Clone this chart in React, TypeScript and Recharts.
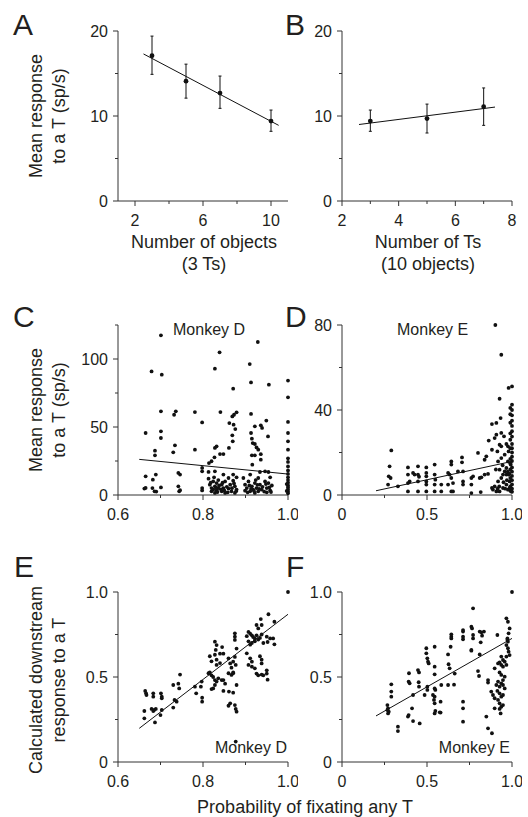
import React from 'react';
import { ScatterChart, Scatter, XAxis, YAxis, ErrorBar } from 'recharts';

// ---------- Panel A ----------
const aObjects = [3, 5, 7, 10];
const aMeans = [17.1, 14.1, 12.7, 9.4];
const aUpper = [19.4, 16.1, 14.7, 10.7];
const aLower = [14.9, 12.1, 10.9, 8.2];
const aFitX = [2.5, 10.45];
const aFitY = [17.3, 8.9];

// ---------- Panel B ----------
const bTs = [3, 5, 7];
const bMeans = [9.4, 9.7, 11.1];
const bUpper = [10.7, 11.4, 13.3];
const bLower = [8.2, 8.0, 8.9];
const bFitX = [2.6, 7.4];
const bFitY = [9.0, 11.05];

// ---------- Panel C (Monkey D, response) ----------
const cPoints: [number, number][] = [
  [0.701, 117.4], [0.679, 90.9], [0.703, 88.5], [0.701, 61.5], [0.732, 59], [0.736, 61.5], [0.781, 61], [0.798, 53.4],
  [0.665, 45.6], [0.701, 46.8], [0.701, 41.9], [0.687, 32.6], [0.687, 29.2], [0.734, 36.5], [0.73, 31.4], [0.781, 33.3],
  [0.665, 13.7], [0.682, 11.3], [0.689, 15], [0.662, 4.7], [0.665, 5.2], [0.681, 5.1], [0.686, 2.7], [0.69, 2.5],
  [0.701, 5.6], [0.742, 16.2], [0.746, 15], [0.742, 6.4], [0.744, 2.7], [0.746, 3.5], [0.798, 19.9], [0.798, 17.4],
  [0.798, 5.1], [0.798, 3.4], [0.828, 92.9], [0.839, 104.9], [0.841, 61], [0.871, 78.2], [0.869, 57.8], [0.873, 59],
  [0.879, 60.8], [0.862, 52.9], [0.872, 51.7], [0.876, 48.5], [0.869, 43.9], [0.87, 39.5], [0.861, 34.6], [0.828, 34.6],
  [0.832, 35.8], [0.84, 30.1], [0.848, 30.1], [0.827, 27.7], [0.82, 24.8], [0.814, 23.5], [0.91, 96.3], [0.913, 82.8],
  [0.913, 59.6], [0.955, 81.1], [0.929, 112.5], [0.922, 50.5], [0.936, 51.2], [0.939, 49.3], [0.949, 54.7], [0.913, 45.6],
  [0.915, 41.4], [0.917, 38.2], [0.922, 37.5], [0.926, 35], [0.93, 33.3], [0.915, 29.2], [0.922, 29.2], [0.936, 30],
  [0.916, 22.3], [0.936, 26], [0.953, 43.1],
  [1.0, 84.1], [1.0, 71.8], [1.0, 53.7], [1.0, 45.6], [1.0, 39.5], [1.0, 33.3], [1.0, 27], [1.0, 24.3], [1.0, 21],
  [1.0, 18], [1.0, 15.5], [1.0, 13], [1.0, 11], [1.0, 9], [1.0, 7], [1.0, 5.5], [1.0, 4], [1.0, 2.5], [1.0, 1.2],
  [0.997, 8], [0.997, 3],
  [0.813, 17], [0.828, 17.4], [0.848, 15], [0.813, 12], [0.816, 7.6], [0.82, 5.1], [0.82, 2.7], [0.824, 10], [0.824, 4],
  [0.828, 6.4], [0.828, 1.5], [0.832, 8.8], [0.832, 3.4], [0.836, 5.1], [0.836, 11], [0.844, 2.7], [0.844, 7.6],
  [0.848, 5.1], [0.852, 10], [0.852, 1.5], [0.86, 12.5], [0.86, 4.7], [0.864, 7.6], [0.867, 2.7], [0.871, 10.5],
  [0.871, 15], [0.875, 6.4], [0.875, 1.5], [0.879, 4], [0.879, 13], [0.895, 12.5], [0.899, 7.6], [0.899, 3.2],
  [0.903, 5.1], [0.907, 10], [0.911, 15], [0.911, 2.7], [0.915, 6.4], [0.918, 4], [0.922, 8.8], [0.922, 1.5],
  [0.926, 5.1], [0.93, 12.5], [0.93, 2.7], [0.934, 16.9], [0.934, 7.6], [0.938, 4], [0.946, 17.4], [0.946, 10],
  [0.95, 5.1], [0.95, 2], [0.954, 16.9], [0.954, 8.8], [0.958, 13], [0.958, 3.4], [0.962, 7],
  [0.83, 5.5], [0.834, 2.2], [0.838, 7], [0.842, 4.2], [0.846, 9], [0.85, 3.3], [0.856, 6], [0.858, 2], [0.868, 5],
  [0.873, 8.5], [0.878, 2.8], [0.905, 2], [0.909, 7], [0.913, 4.5], [0.92, 3], [0.924, 11], [0.928, 7.5], [0.932, 4.5],
  [0.94, 6], [0.944, 2.5], [0.948, 8], [0.956, 5.5], [0.96, 2.2], [0.818, 9], [0.826, 13],
];
const cFitX = [0.65, 1.0];
const cFitY = [26.2, 15.4];

// ---------- Panel D (Monkey E, response) ----------
const dPoints: [number, number][] = [
  [0.902, 80], [0.937, 66], [0.98, 50.4], [1.0, 51.1], [0.927, 45.3], [0.933, 36.2], [0.882, 33.4], [0.908, 33.9],
  [1.0, 42.5], [1.0, 40], [1.0, 37.5], [1.0, 35], [1.0, 32.5], [1.0, 30], [1.0, 27.5], [1.0, 24], [1.0, 22], [1.0, 20],
  [1.0, 18], [1.0, 16], [1.0, 13], [1.0, 11], [1.0, 9], [1.0, 7], [1.0, 5], [1.0, 3], [1.0, 1.5],
  [0.99, 41], [0.99, 38], [0.99, 34], [0.99, 29], [0.99, 26], [0.99, 22], [0.99, 17], [0.99, 12], [0.99, 8], [0.99, 4], [0.99, 2],
  [0.908, 28.4], [0.937, 29.2], [0.953, 27.6], [0.898, 26.8], [0.863, 25.6], [0.927, 23.7], [0.937, 22.9], [0.967, 24],
  [0.976, 22.9], [0.8, 19.8], [0.849, 18.2], [0.839, 16.6], [0.29, 21], [0.28, 13.5], [0.275, 8.8], [0.286, 8],
  [0.271, 4.9], [0.329, 4.1], [0.388, 13], [0.388, 9.6], [0.388, 5.6], [0.388, 1.7], [0.418, 10.4], [0.427, 9.6],
  [0.447, 13.5], [0.447, 9.6], [0.453, 8.6], [0.447, 6.4], [0.447, 1.7], [0.398, 6.4], [0.496, 13], [0.496, 10.4],
  [0.496, 8.8], [0.496, 6.4], [0.496, 4.9], [0.496, 1.7], [0.545, 14.3], [0.545, 9.6], [0.549, 7.2], [0.545, 4.9],
  [0.545, 1.7], [0.584, 4.9], [0.584, 1.7], [0.624, 10.4], [0.633, 9.6], [0.643, 8], [0.624, 4.9], [0.643, 1.7],
  [0.643, 15.8], [0.643, 14.3], [0.682, 11.1], [0.653, 5.6], [0.653, 1.7], [0.706, 17.7], [0.706, 15.4], [0.712, 11.1],
  [0.712, 6.4], [0.712, 4.9], [0.761, 8], [0.771, 8.8], [0.761, 4.9], [0.761, 0.9], [0.81, 8], [0.82, 8.3],
  [0.839, 9.6], [0.859, 9.9], [0.816, 1.4], [0.882, 3.3], [0.888, 2.5], [0.898, 4.1], [0.908, 1.7], [0.927, 1.7],
  [0.947, 3.3], [0.967, 4.9], [0.976, 2.5], [0.986, 3.3], [0.996, 1.7], [0.918, 6.4], [0.937, 8], [0.947, 9.6],
  [0.957, 11.1], [0.967, 12.7], [0.927, 11.9], [0.976, 15.8], [0.957, 19], [0.937, 17.4], [0.918, 15.8], [0.967, 9.6],
  [0.986, 6.4], [0.882, 21.3], [0.914, 20.5], [0.98, 20.5], [0.992, 14.3], [0.98, 9.6],
  [0.95, 6], [0.96, 3], [0.97, 7], [0.975, 11], [0.985, 10], [0.99, 15], [0.945, 14], [0.925, 4], [0.915, 3], [0.905, 12],
];
const dFitX = [0.2, 1.0];
const dFitY = [2.0, 15.8];

// ---------- Panel E (Monkey D, downstream) ----------
const ePoints: [number, number][] = [
  [1.0, 1.0], [0.954, 0.869], [0.968, 0.825], [0.936, 0.841], [0.938, 0.806], [0.926, 0.806], [0.93, 0.786],
  [0.95, 0.737], [0.958, 0.727], [0.965, 0.727], [0.968, 0.692], [0.952, 0.706],
  [0.907, 0.765], [0.911, 0.755], [0.915, 0.745], [0.918, 0.735], [0.922, 0.725], [0.926, 0.745], [0.93, 0.72],
  [0.934, 0.73], [0.903, 0.74], [0.907, 0.71], [0.915, 0.7], [0.922, 0.71], [0.938, 0.75], [0.942, 0.7], [0.911, 0.69],
  [0.903, 0.639], [0.911, 0.61], [0.915, 0.59], [0.907, 0.571], [0.915, 0.561], [0.922, 0.551], [0.934, 0.622],
  [0.938, 0.602], [0.938, 0.58], [0.926, 0.52], [0.93, 0.51], [0.938, 0.514], [0.95, 0.539], [0.95, 0.52],
  [0.952, 0.484], [0.942, 0.51],
  [0.875, 0.757], [0.875, 0.737], [0.875, 0.718], [0.879, 0.667], [0.875, 0.618], [0.871, 0.59], [0.877, 0.571],
  [0.828, 0.708], [0.832, 0.688], [0.83, 0.659], [0.828, 0.631], [0.816, 0.622], [0.82, 0.592], [0.832, 0.602],
  [0.84, 0.637], [0.848, 0.637], [0.845, 0.676], [0.84, 0.582], [0.832, 0.571],
  [0.813, 0.522], [0.816, 0.527], [0.82, 0.51], [0.824, 0.5], [0.828, 0.482], [0.832, 0.473], [0.836, 0.492],
  [0.844, 0.482], [0.848, 0.482], [0.852, 0.461], [0.828, 0.453], [0.824, 0.433], [0.82, 0.429],
  [0.86, 0.522], [0.867, 0.512], [0.871, 0.522], [0.86, 0.61], [0.864, 0.58], [0.867, 0.555], [0.871, 0.527],
  [0.879, 0.453], [0.861, 0.414], [0.871, 0.408], [0.864, 0.345], [0.86, 0.331], [0.875, 0.335], [0.877, 0.312],
  [0.879, 0.296], [0.848, 0.418],
  [0.797, 0.473], [0.795, 0.443], [0.798, 0.378], [0.798, 0.355], [0.781, 0.443], [0.784, 0.404],
  [0.746, 0.514], [0.742, 0.461], [0.744, 0.433], [0.73, 0.453], [0.733, 0.365], [0.738, 0.355], [0.73, 0.32],
  [0.664, 0.418], [0.666, 0.404], [0.667, 0.394], [0.683, 0.404], [0.683, 0.384], [0.701, 0.404], [0.703, 0.384],
  [0.703, 0.375], [0.662, 0.3], [0.662, 0.257], [0.679, 0.312], [0.685, 0.306], [0.689, 0.312], [0.683, 0.3],
  [0.703, 0.306], [0.7, 0.276], [0.687, 0.233], [0.877, 0.12],
];
const eFitX = [0.65, 1.0];
const eFitY = [0.198, 0.869];

// ---------- Panel F (Monkey E, downstream) ----------
const fPoints: [number, number][] = [
  [1.0, 1.0], [0.771, 0.904], [0.761, 0.796], [0.765, 0.786], [0.771, 0.747], [0.771, 0.727],
  [0.712, 0.776], [0.712, 0.767], [0.712, 0.737], [0.712, 0.722], [0.643, 0.751], [0.643, 0.737], [0.643, 0.727],
  [0.639, 0.678], [0.81, 0.767], [0.82, 0.763], [0.835, 0.767], [0.824, 0.743], [0.816, 0.704], [0.761, 0.659],
  [0.761, 0.655], [0.81, 0.633], [0.914, 0.747],
  [0.496, 0.669], [0.496, 0.639], [0.502, 0.61], [0.506, 0.59], [0.51, 0.58], [0.545, 0.678], [0.545, 0.561],
  [0.545, 0.516], [0.545, 0.433], [0.549, 0.424], [0.545, 0.384], [0.545, 0.345], [0.549, 0.3], [0.545, 0.286],
  [0.584, 0.453], [0.58, 0.355], [0.58, 0.291], [0.624, 0.633], [0.627, 0.575], [0.633, 0.551], [0.624, 0.453],
  [0.659, 0.455], [0.663, 0.52], [0.712, 0.355], [0.712, 0.316], [0.712, 0.237], [0.8, 0.535], [0.806, 0.506],
  [0.859, 0.482], [0.859, 0.467], [0.849, 0.267], [0.859, 0.198], [0.882, 0.169],
  [0.967, 0.845], [0.976, 0.825], [0.986, 0.786], [0.98, 0.757], [0.973, 0.727], [0.976, 0.708], [0.967, 0.688],
  [0.976, 0.669], [0.98, 0.649], [0.986, 0.629], [0.967, 0.62], [0.973, 0.718],
  [0.937, 0.62], [0.947, 0.6], [0.957, 0.59], [0.927, 0.586], [0.918, 0.58], [0.937, 0.571], [0.947, 0.561],
  [0.967, 0.571], [0.898, 0.551], [0.927, 0.527], [0.937, 0.512], [0.957, 0.502], [0.947, 0.482], [0.918, 0.473],
  [0.937, 0.463], [0.927, 0.443], [0.947, 0.453], [0.957, 0.433], [0.908, 0.453],
  [0.878, 0.414], [0.888, 0.394], [0.898, 0.375], [0.914, 0.418], [0.927, 0.404], [0.937, 0.384], [0.947, 0.394],
  [0.918, 0.365], [0.927, 0.345], [0.937, 0.325], [0.947, 0.335], [0.898, 0.316], [0.927, 0.312], [0.933, 0.286],
  [0.447, 0.541], [0.453, 0.527], [0.451, 0.469], [0.453, 0.443], [0.394, 0.522], [0.392, 0.473], [0.398, 0.463],
  [0.418, 0.394], [0.412, 0.316], [0.388, 0.267], [0.392, 0.276], [0.418, 0.241], [0.457, 0.227],
  [0.29, 0.457], [0.29, 0.414], [0.29, 0.384], [0.267, 0.335], [0.271, 0.316], [0.267, 0.306], [0.275, 0.296],
  [0.271, 0.286], [0.329, 0.208], [0.329, 0.182], [0.502, 0.443], [0.502, 0.424], [0.486, 0.394], [0.535, 0.394],
  [0.541, 0.365], [0.575, 0.292],
];
const fFitX = [0.2, 1.0];
const fFitY = [0.271, 0.727];

// ---------- Axis ticks ----------
const aXTicks = [2, 4, 6, 8, 10];
const aXLabels = ['2', '', '6', '', '10'];
const bXTicks = [2, 3, 4, 5, 6, 7, 8];
const bXLabels = ['2', '', '4', '', '6', '', '8'];
const abYTicks = [0, 5, 10, 15, 20];
const abYLabels = ['0', '', '10', '', '20'];
const ceXTicks = [0.6, 0.7, 0.8, 0.9, 1.0];
const ceXLabels = ['0.6', '', '0.8', '', '1.0'];
const dfXTicks = [0, 0.25, 0.5, 0.75, 1.0];
const dfXLabels = ['0', '', '0.5', '', '1.0'];
const cYTicks = [0, 25, 50, 75, 100, 125];
const cYLabels = ['0', '', '50', '', '100', ''];
const dYTicks = [0, 20, 40, 60, 80];
const dYLabels = ['0', '', '40', '', '80'];
const efYTicks = [0, 0.25, 0.5, 0.75, 1.0];
const efYLabels = ['0', '', '0.5', '', '1.0'];

const FONT = '"Liberation Sans", Arial, Helvetica, sans-serif';
const INK = '#231f20';
const AXIS = '#333';

const toXY = (pts: [number, number][]) => pts.map(([x, y]) => ({ x, y }));
const zipXY = (xs: number[], ys: number[]) => xs.map((x, i) => ({ x, y: ys[i] }));
const withErr = (xs: number[], m: number[], up: number[], lo: number[]) =>
  xs.map((x, i) => ({ x, y: m[i], err: [m[i] - lo[i], up[i] - m[i]] }));

const makeTick = (axis: 'x' | 'y', ticks: number[], labels: string[]) => (props: any) => {
  const { x, y, payload } = props;
  const i = ticks.findIndex((t) => Math.abs(t - payload.value) < 1e-9);
  const label = i >= 0 ? labels[i] : '';
  const major = label !== '';
  const len = major ? 5 : 3;
  if (axis === 'x') {
    return (
      <g>
        <line x1={x} y1={y} x2={x} y2={y + len} stroke={AXIS} strokeWidth={1} />
        {major && (
          <text x={x} y={y + 25} textAnchor="middle" fontSize={16} fontFamily={FONT} fill={INK}>
            {label}
          </text>
        )}
      </g>
    );
  }
  return (
    <g>
      <line x1={x - len} y1={y} x2={x} y2={y} stroke={AXIS} strokeWidth={1} />
      {major && (
        <text x={x - 10} y={y} dy="0.36em" textAnchor="end" fontSize={16} fontFamily={FONT} fill={INK}>
          {label}
        </text>
      )}
    </g>
  );
};

const smallDot = (p: any) => <circle cx={p.cx} cy={p.cy} r={1.9} fill="#111" />;
const bigDot = (p: any) => <circle cx={p.cx} cy={p.cy} r={2.4} fill="#111" />;
const noDot = () => <g />;

type PanelProps = {
  left: number;
  top: number;
  xDomain: [number, number];
  yDomain: [number, number];
  xTicks: number[];
  xLabels: string[];
  yTicks: number[];
  yLabels: string[];
  points: { x: number; y: number; err?: number[] }[];
  fit: { x: number; y: number }[];
  errors?: boolean;
};

function Panel(p: PanelProps) {
  return (
    <div style={{ position: 'absolute', left: p.left - 60, top: p.top - 10 }}>
      <ScatterChart width={240} height={230} margin={{ top: 10, right: 10, bottom: 0, left: 0 }}>
        <XAxis
          type="number"
          dataKey="x"
          domain={p.xDomain}
          ticks={p.xTicks}
          interval={0}
          tickSize={0}
          tickMargin={0}
          tickLine={false}
          height={50}
          axisLine={{ stroke: AXIS, strokeWidth: 1 }}
          tick={makeTick('x', p.xTicks, p.xLabels)}
        />
        <YAxis
          type="number"
          dataKey="y"
          domain={p.yDomain}
          ticks={p.yTicks}
          interval={0}
          tickSize={0}
          tickMargin={0}
          tickLine={false}
          width={60}
          axisLine={{ stroke: AXIS, strokeWidth: 1 }}
          tick={makeTick('y', p.yTicks, p.yLabels)}
        />
        <Scatter
          data={p.fit}
          line={{ stroke: '#111', strokeWidth: 1 }}
          lineType="joint"
          shape={noDot}
          isAnimationActive={false}
        />
        <Scatter data={p.points} shape={p.errors ? bigDot : smallDot} isAnimationActive={false}>
          {p.errors && <ErrorBar dataKey="err" direction="y" width={1.5} stroke="#111" strokeWidth={1} />}
        </Scatter>
      </ScatterChart>
    </div>
  );
}

const T = (props: any) => <text fontFamily={FONT} fill={INK} {...props} />;

export default function App() {
  return (
    <div style={{ position: 'absolute', left: 0, top: 0, width: 528, height: 817, background: '#fff', overflow: 'hidden' }}>
      <Panel left={118} top={31} xDomain={[1, 11]} yDomain={[0, 20]} xTicks={aXTicks} xLabels={aXLabels}
        yTicks={abYTicks} yLabels={abYLabels} points={withErr(aObjects, aMeans, aUpper, aLower)}
        fit={zipXY(aFitX, aFitY)} errors />
      <Panel left={342} top={31} xDomain={[2, 8]} yDomain={[0, 20]} xTicks={bXTicks} xLabels={bXLabels}
        yTicks={abYTicks} yLabels={abYLabels} points={withErr(bTs, bMeans, bUpper, bLower)}
        fit={zipXY(bFitX, bFitY)} errors />
      <Panel left={118} top={325} xDomain={[0.6, 1]} yDomain={[0, 125]} xTicks={ceXTicks} xLabels={ceXLabels}
        yTicks={cYTicks} yLabels={cYLabels} points={toXY(cPoints)} fit={zipXY(cFitX, cFitY)} />
      <Panel left={342} top={325} xDomain={[0, 1]} yDomain={[0, 80]} xTicks={dfXTicks} xLabels={dfXLabels}
        yTicks={dYTicks} yLabels={dYLabels} points={toXY(dPoints)} fit={zipXY(dFitX, dFitY)} />
      <Panel left={118} top={592} xDomain={[0.6, 1]} yDomain={[0, 1]} xTicks={ceXTicks} xLabels={ceXLabels}
        yTicks={efYTicks} yLabels={efYLabels} points={toXY(ePoints)} fit={zipXY(eFitX, eFitY)} />
      <Panel left={342} top={592} xDomain={[0, 1]} yDomain={[0, 1]} xTicks={dfXTicks} xLabels={dfXLabels}
        yTicks={efYTicks} yLabels={efYLabels} points={toXY(fPoints)} fit={zipXY(fFitX, fFitY)} />

      <svg width={528} height={817} style={{ position: 'absolute', left: 0, top: 0, pointerEvents: 'none' }}>
        {/* panel letters */}
        <T x={13} y={35} fontSize={30}>A</T>
        <T x={285} y={35} fontSize={30}>B</T>
        <T x={13} y={327} fontSize={30}>C</T>
        <T x={285} y={327} fontSize={30}>D</T>
        <T x={14} y={577} fontSize={30}>E</T>
        <T x={286} y={577} fontSize={30}>F</T>

        {/* y-axis titles */}
        <g transform="translate(42,116) rotate(-90)">
          <T x={0} y={0} fontSize={18} textAnchor="middle">Mean response</T>
        </g>
        <g transform="translate(65,116) rotate(-90)">
          <T x={0} y={0} fontSize={18} textAnchor="middle">to a T (sp/s)</T>
        </g>
        <g transform="translate(42,410) rotate(-90)">
          <T x={0} y={0} fontSize={18} textAnchor="middle">Mean response</T>
        </g>
        <g transform="translate(65,410) rotate(-90)">
          <T x={0} y={0} fontSize={18} textAnchor="middle">to a T (sp/s)</T>
        </g>
        <g transform="translate(42,680) rotate(-90)">
          <T x={0} y={0} fontSize={18} textAnchor="middle">Calculated downstream</T>
        </g>
        <g transform="translate(65,680) rotate(-90)">
          <T x={0} y={0} fontSize={18} textAnchor="middle">response to a T</T>
        </g>

        {/* x-axis titles */}
        <T x={204} y={248} fontSize={18} textAnchor="middle">Number of objects</T>
        <T x={204} y={270} fontSize={18} textAnchor="middle">(3 Ts)</T>
        <T x={428} y={248} fontSize={18} textAnchor="middle">Number of Ts</T>
        <T x={428} y={270} fontSize={18} textAnchor="middle">(10 objects)</T>
        <T x={305} y={813} fontSize={18} textAnchor="middle">Probability of fixating any T</T>

        {/* monkey labels */}
        <T x={173} y={335} fontSize={16}>Monkey D</T>
        <T x={397} y={335} fontSize={16}>Monkey E</T>
        <T x={287} y={753} fontSize={16} textAnchor="end">Monkey D</T>
        <T x={510} y={753} fontSize={16} textAnchor="end">Monkey E</T>
      </svg>
    </div>
  );
}
